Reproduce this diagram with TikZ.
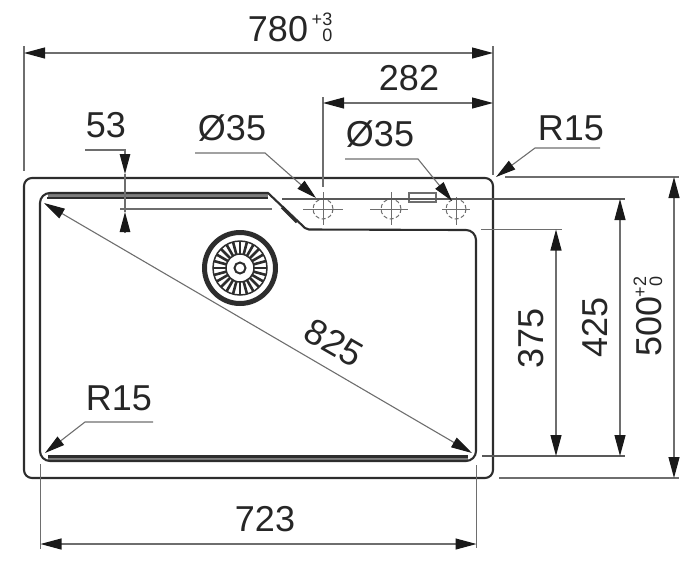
\documentclass[tikz,border=0pt]{standalone}
\usepackage{fontspec}
\setmainfont{Liberation Sans}
\definecolor{inkdark}{RGB}{45, 45, 45}
\definecolor{inkgray}{RGB}{110, 110, 110}
\definecolor{inkband}{RGB}{125, 125, 125}
\usetikzlibrary{arrows.meta, calc}
\tikzset{
  sinkline/.style={draw=inkdark, line width=2.1pt},
  extline/.style={draw=inkgray, line width=1.1pt},
  refline/.style={draw=black!65, line width=1.2pt},
  dimline/.style={draw=inkgray, line width=1.1pt, {Triangle[length=21pt,width=11pt,color=black!90]}-{Triangle[length=21pt,width=11pt,color=black!90]}},
  leaderline/.style={draw=inkgray, line width=1.1pt, -{Triangle[length=20pt,width=10.5pt,color=black!90]}},
  dimlabel/.style={inner sep=0pt, text=black!85, font=\fontsize{36}{36}\selectfont},
  tollabel/.style={inner sep=0pt, align=right, text=black!85, font=\fontsize{18}{16}\selectfont},
  holecross/.style={draw=inkgray, line width=1pt},
  holecircle/.style={draw=inkgray, line width=1pt, dash pattern=on 4pt off 2.5pt}
}
\begin{document}
\begin{tikzpicture}[x=1pt, y=-1pt]
  \useasboundingbox (0,0) rectangle (696,566);

  % Sink outline
  \draw[sinkline, rounded corners=8pt] (24,178) rectangle (493,478);

  % Bowl
  \draw[draw=inkband, line width=5pt] (48,196) -- (268,196);
  \draw[draw=inkband, line width=5pt] (48,458.5) -- (468,458.5);
  \draw[sinkline] (268,193) -- (50,193) arc[start angle=90, end angle=180, radius=10pt] -- (40,451) arc[start angle=180, end angle=270, radius=10pt] -- (466,461) arc[start angle=270, end angle=360, radius=10pt] -- (476,240) arc[start angle=0, end angle=90, radius=10pt] -- (309,229.5) -- (305,228) -- cycle;
  \draw[sinkline, line width=1.3pt] (47,198) -- (268,198);
  \draw[sinkline] (48,456.5) -- (468,456.5);
  \draw[draw=inkdark, line width=3.5pt] (282,207) -- (297,222);

  % Waste strainer
  \draw[draw=inkdark, line width=5pt] (240,268) circle[radius=35.5pt];
  \draw[draw=inkdark, line width=1.5pt] (240,268) circle[radius=27pt];
  \draw[draw=inkdark, line width=1.5pt] (240,268) circle[radius=14pt];
  \foreach \ang in {0,15,...,345} {
    \draw[draw=inkdark, line width=2.6pt] ($(240,268)+(\ang:14pt)$) -- ($(240,268)+(\ang:27pt)$);
  }
  \draw[draw=inkdark, line width=2pt] (240,268) circle[radius=5.5pt];

  % Tap holes
  \foreach \hx/\hname/\hl/\hr/\ht in {323/holeA/303/343/192, 391/holeB/370/408/192, 456/holeC/442/470/197} {
    \coordinate (\hname) at (\hx,209);
    \draw[holecross] (\hl,209) -- (\hr,209) (\hx,\ht) -- (\hx,225);
    \draw[holecircle] (\hname) circle[radius=10pt];
  }
  \node[draw=inkgray, line width=1.1pt, minimum width=27pt, minimum height=9pt, inner sep=0pt] (tapslot) at (422.5,197.5) {};

  % Extension lines
  \draw[extline] (24,46) -- (24,171);
  \draw[extline] (493,46) -- (493,175);
  \draw[extline] (323,97) -- (323,187);
  \draw[extline] (120,209) -- (272,209);
  \draw[refline] (282,199) -- (625,199);
  \draw[extline] (481,229.5) -- (562,229.5);
  \draw[refline] (482,456) -- (625,456);
  \draw[extline] (505,177) -- (679,177);
  \draw[extline] (499,478) -- (679,478);
  \draw[extline] (40.5,464) -- (40.5,549);
  \draw[extline] (476.5,465) -- (476.5,548);

  % Dimensions
  \coordinate (widthL) at (24,53);
  \coordinate (widthR) at (493,53);
  \draw[dimline] (widthL) -- (widthR);
  \node[dimlabel] (width) at (278,29) {780};
  \node[tollabel] (widthtol) at (322,27) {+3\\0};

  \coordinate (holeL) at (323,103);
  \coordinate (holeR) at (493,103);
  \draw[dimline] (holeL) -- (holeR);
  \node[dimlabel] (holedist) at (409,78) {282};

  \coordinate (rimT) at (125,150);
  \coordinate (rimA) at (125,174);
  \coordinate (rimB) at (125,233);
  \coordinate (rimC) at (125,212);
  \draw[leaderline] (85,150) -- (rimT) -- (rimA);
  \draw[extline] (rimA) -- (rimC);
  \draw[leaderline] (rimB) -- (rimC);
  \node[dimlabel] (rim) at (106,125) {53};

  \coordinate (bowlTa) at (556,229.5);
  \coordinate (bowlBa) at (556,456);
  \draw[dimline] (bowlTa) -- (bowlBa);
  \node[dimlabel, rotate=90] (bowlshort) at (531,338) {375};

  \coordinate (bowlTb) at (620,199);
  \coordinate (bowlBb) at (620,456);
  \draw[dimline] (bowlTb) -- (bowlBb);
  \node[dimlabel, rotate=90] (bowlfull) at (595,327) {425};

  \coordinate (depthT) at (674,177);
  \coordinate (depthB) at (674,478);
  \draw[dimline] (depthT) -- (depthB);
  \node[dimlabel, rotate=90] (depth) at (649,326) {500};
  \node[tollabel, rotate=90] (depthtol) at (648,287) {+2\\0};

  \coordinate (bowlL) at (40.5,544);
  \coordinate (bowlR) at (476.5,544);
  \draw[dimline] (bowlL) -- (bowlR);
  \node[dimlabel] (bowlwidth) at (265,519) {723};

  % Diagonal
  \coordinate (diagA) at (44,203);
  \coordinate (diagB) at (472,453);
  \draw[dimline] (diagA) -- (diagB);
  \node[dimlabel, rotate=-30] (diag) at (334,343) {825};

  % Leaders
  \node[dimlabel] (holeleft) at (232,128) {Ø35};
  \draw[leaderline] (195,153) -- (265,153) -- (316,198);
  \node[dimlabel] (holeright) at (380,134) {Ø35};
  \draw[leaderline] (345,159) -- (418,159) -- (452,201);
  \node[dimlabel] (radiustop) at (571,128) {R15};
  \draw[leaderline] (600,148) -- (535,148) -- (496,177);
  \node[dimlabel] (radiusbottom) at (119,398) {R15};
  \draw[leaderline] (153,422) -- (85,422) -- (45,453);
\end{tikzpicture}
\end{document}
